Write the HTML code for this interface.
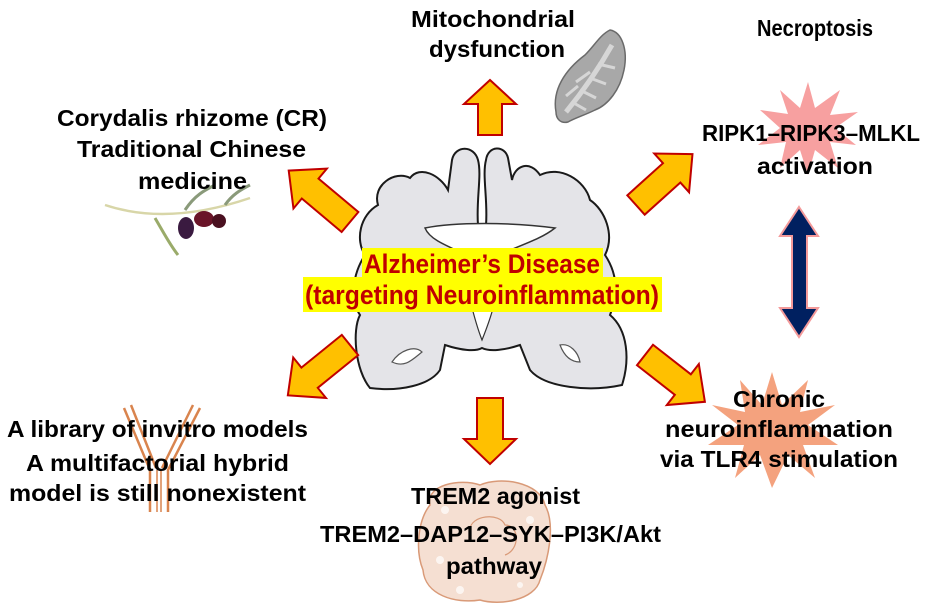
<!DOCTYPE html>
<html><head><meta charset="utf-8"><style>
html,body{margin:0;padding:0;background:#fff;}
svg{display:block;}
text{font-family:"Liberation Sans",sans-serif;font-weight:bold;fill:#000;}
</style></head><body>
<svg width="935" height="604" viewBox="0 0 935 604" xmlns="http://www.w3.org/2000/svg">
<!-- starbursts -->
<polygon fill="#f7a0a0" points="808,82 815,108 840,90 830,115 858,112 835,128 856,145 830,142 838,168 815,150 808,175 800,150 780,168 786,142 758,145 780,128 760,110 788,114 780,90 800,108"/>
<polygon fill="#f4a27e" points="772,372 782,405 808,380 800,412 835,405 808,425 838,445 803,445 815,478 788,455 772,488 760,455 735,478 744,445 708,445 738,425 712,405 745,412 740,380 762,405"/>
<!-- cell blob -->
<path d="M430 505 C425 485,460 478,480 485 C500 476,540 482,545 505 C556 525,548 560,540 580 C535 600,500 606,480 600 C455 604,425 595,423 570 C415 550,418 520,430 505 Z" fill="#f5dfd2" stroke="#d99a78" stroke-width="1.5"/>
<g fill="#fff" opacity="0.7"><circle cx="445" cy="510" r="4"/><circle cx="470" cy="500" r="3"/><circle cx="530" cy="520" r="4"/><circle cx="440" cy="560" r="4"/><circle cx="520" cy="585" r="3"/><circle cx="460" cy="590" r="4"/></g>
<path d="M470 530 C470 515,500 512,505 525 C520 525,520 550,505 555" fill="none" stroke="#d99a78" stroke-width="1.2"/>
<!-- antibody -->
<g fill="none" stroke="#d9844e" stroke-width="2.5">
<path d="M124 408 L150 470 L150 512 M131 405 L156 468"/>
<path d="M200 408 L168 470 L168 512 M193 405 L162 468"/>
<path d="M157 470 L157 512 M161 470 L161 512" stroke-width="1.5"/>
</g>
<!-- olive branch -->
<g>
<path d="M105 205 C150 220,200 215,250 198" fill="none" stroke="#d8d6a8" stroke-width="2.5"/>
<path d="M155 218 C165 235,170 245,178 255" stroke="#9aab6a" stroke-width="3" fill="none"/>
<path d="M185 210 C195 195,205 190,215 185" stroke="#8a9a7a" stroke-width="3" fill="none"/>
<path d="M225 205 C232 195,240 190,250 185" stroke="#8a9a7a" stroke-width="3" fill="none"/>
<ellipse cx="186" cy="228" rx="8" ry="11" fill="#3a1a40"/>
<ellipse cx="204" cy="219" rx="10" ry="8" fill="#6a1428"/>
<ellipse cx="219" cy="221" rx="7" ry="7" fill="#4a1020"/>
</g>
<!-- mitochondrion -->
<path d="M556 112 C552 90,565 70,585 55 C595 45,600 35,610 30 C622 32,628 50,624 70 C620 90,608 105,595 110 C585 115,575 118,568 122 C560 124,556 118,556 112 Z" fill="#a8a8a8" stroke="#6a6a6a" stroke-width="1.5"/>
<path d="M566 112 C580 95,595 75,612 45" stroke="#d6d6d6" stroke-width="5" fill="none"/>
<path d="M572 102 L586 110 M580 90 L596 98 M590 78 L606 84 M598 64 L615 68 M566 96 L578 86 M576 82 L590 72" stroke="#d6d6d6" stroke-width="3" fill="none"/>
<!-- brain -->
<path d="M478 225 C476 200,482 175,478 160 C474 145,455 145,452 160 L448 190 C440 175,420 165,410 178 C395 170,372 185,378 205 C360 215,355 240,365 255 C352 275,350 300,360 315 C352 330,355 370,370 388 C400 392,430 385,440 370 L445 345 C460 350,475 352,482 348 C490 352,505 350,520 345 L530 370 C545 388,590 392,622 385 C630 360,628 330,610 315 C620 290,615 270,605 255 C615 235,605 210,590 200 C585 180,560 165,540 175 C530 160,515 165,512 180 L508 158 C505 145,488 145,486 160 C482 175,488 200,486 225 Z" fill="#e4e4e8" stroke="#1a1a1a" stroke-width="2"/>
<path d="M425 228 C455 222,510 222,555 228 C540 240,520 245,482 262 C445 245,430 240,425 228 Z" fill="#fff" stroke="#333" stroke-width="1.5"/>
<path d="M470 300 C475 320,480 335,482 340 C486 330,492 315,495 300 Z" fill="#fff" stroke="#333" stroke-width="1.2"/>
<path d="M392 362 C400 350,415 345,422 352 C412 360,405 368,392 362 Z" fill="#fff" stroke="#555" stroke-width="1.2"/>
<path d="M560 345 C570 343,578 352,580 362 C572 362,565 358,560 345 Z" fill="#fff" stroke="#555" stroke-width="1.2"/>
<!-- arrows -->
<g fill="#ffc000" stroke="#c00000" stroke-width="2" stroke-linejoin="miter">
<polygon transform="translate(490,135) rotate(-90)" points="0,-12 31,-12 31,-26 55,0 31,26 31,12 0,12"/>
<polygon transform="translate(490,398) rotate(90)" points="0,-13 41,-13 41,-26 66,0 41,26 41,13 0,13"/>
<polygon transform="translate(350,222) rotate(-140)" points="0,-13 52,-13 52,-26 80,0 52,26 52,13 0,13"/>
<polygon transform="translate(636,205) rotate(-42)" points="0,-13 48,-13 48,-26 76,0 48,26 48,13 0,13"/>
<polygon transform="translate(645,355) rotate(38)" points="0,-13 48,-13 48,-26 76,0 48,26 48,13 0,13"/>
<polygon transform="translate(350,345) rotate(141)" points="0,-13 52,-13 52,-26 80,0 52,26 52,13 0,13"/>
</g>
<!-- double arrow -->
<polygon points="799,207 818,236 807,236 807,308 818,308 799,337 780,308 792,308 792,236 780,236" fill="#002060" stroke="#f49a9a" stroke-width="2"/>
<!-- center label -->
<rect x="362" y="248" width="241" height="30" fill="#ffff00"/>
<rect x="303" y="277" width="359" height="35" fill="#ffff00"/>
<text x="482" y="273" text-anchor="middle" font-size="27" style="fill:#c00000" textLength="236" lengthAdjust="spacingAndGlyphs">Alzheimer’s Disease</text>
<text x="482" y="304" text-anchor="middle" font-size="27" style="fill:#c00000" textLength="354" lengthAdjust="spacingAndGlyphs">(targeting Neuroinflammation)</text>
<!-- labels -->
<g font-size="23">
<text x="411" y="27" textLength="164" lengthAdjust="spacingAndGlyphs">Mitochondrial</text>
<text x="429" y="57" textLength="136" lengthAdjust="spacingAndGlyphs">dysfunction</text>
<text x="757" y="36" textLength="116" lengthAdjust="spacingAndGlyphs">Necroptosis</text>
<text x="57" y="126" textLength="270" lengthAdjust="spacingAndGlyphs">Corydalis rhizome (CR)</text>
<text x="77" y="157" textLength="229" lengthAdjust="spacingAndGlyphs">Traditional Chinese</text>
<text x="138" y="189" textLength="109" lengthAdjust="spacingAndGlyphs">medicine</text>
<text x="702" y="141" textLength="218" lengthAdjust="spacingAndGlyphs">RIPK1–RIPK3–MLKL</text>
<text x="757" y="174" textLength="116" lengthAdjust="spacingAndGlyphs">activation</text>
<text x="733" y="407" textLength="92" lengthAdjust="spacingAndGlyphs">Chronic</text>
<text x="665" y="437" textLength="228" lengthAdjust="spacingAndGlyphs">neuroinflammation</text>
<text x="660" y="467" textLength="238" lengthAdjust="spacingAndGlyphs">via TLR4 stimulation</text>
<text x="7" y="437" textLength="301" lengthAdjust="spacingAndGlyphs">A library of invitro models</text>
<text x="26" y="471" textLength="263" lengthAdjust="spacingAndGlyphs">A multifactorial hybrid</text>
<text x="9" y="501" textLength="297" lengthAdjust="spacingAndGlyphs">model is still nonexistent</text>
<text x="411" y="504" textLength="169" lengthAdjust="spacingAndGlyphs">TREM2 agonist</text>
<text x="320" y="542" textLength="341" lengthAdjust="spacingAndGlyphs">TREM2–DAP12–SYK–PI3K/Akt</text>
<text x="446" y="574" textLength="96" lengthAdjust="spacingAndGlyphs">pathway</text>
</g>
</svg>
</body></html>
